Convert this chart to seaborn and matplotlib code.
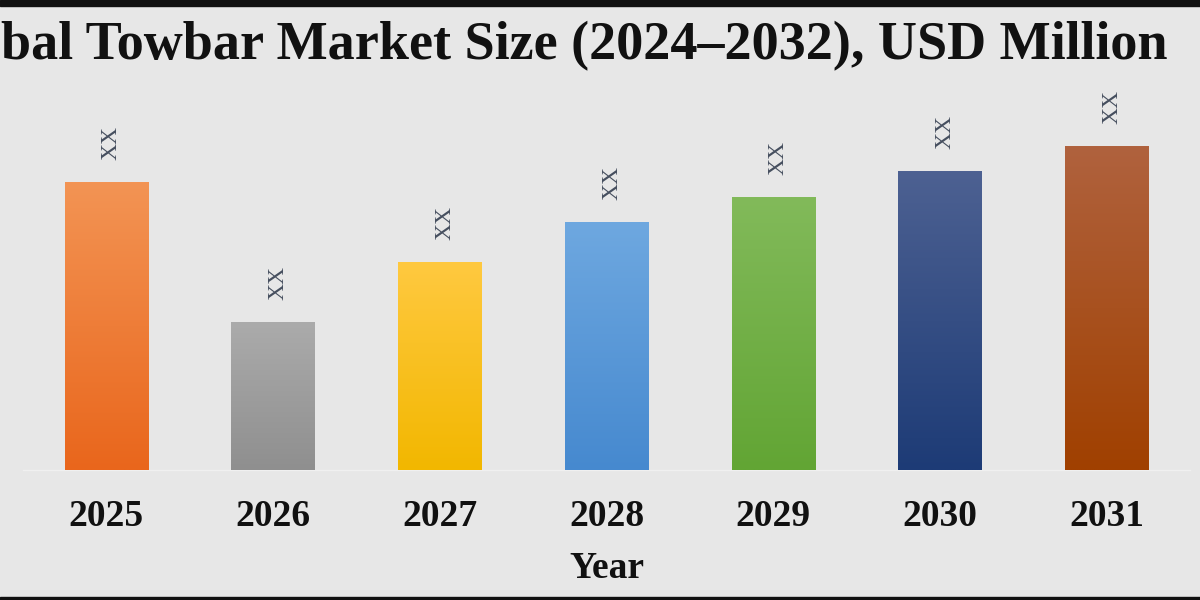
import numpy as np
import pandas as pd
import matplotlib
matplotlib.use("Agg")
import matplotlib.pyplot as plt
import matplotlib.colors as mcolors
from matplotlib.patches import Rectangle
import seaborn as sns

years = ["2025", "2026", "2027", "2028", "2029", "2030", "2031"]
values = [288, 148, 208, 248, 273, 299, 324]
labels = ["XX"] * 7
top_colors = ["#f39454", "#ababab", "#ffc940", "#6ea8e0", "#82ba5a", "#4d6192", "#b0623e"]
bottom_colors = ["#e9661c", "#8f8f8f", "#f2b700", "#4689cf", "#62a534", "#1d3b76", "#a04000"]

title = "Global Towbar Market Size (2024\u20132032), USD Million"
xlabel = "Year"

bg = "#e7e7e7"
sns.set_theme(style="white")
plt.rcParams["font.family"] = ["Liberation Serif", "DejaVu Serif"]

fig = plt.figure(figsize=(12, 6), dpi=100, facecolor=bg)
ax = fig.add_axes([23 / 1200, 130 / 600, 1167 / 1200, 390 / 600])
ax.set_facecolor(bg)

df = pd.DataFrame({"Year": years, "Value": values})
sns.barplot(data=df, x="Year", y="Value", ax=ax, width=0.5, color="white",
            saturation=1, linewidth=0)

for i, p in enumerate(ax.patches):
    x0 = p.get_x()
    w = p.get_width()
    h = p.get_height()
    c_top = np.array(mcolors.to_rgb(top_colors[i]))
    c_bot = np.array(mcolors.to_rgb(bottom_colors[i]))
    t = np.linspace(0, 1, 256)[:, None]
    grad = c_bot[None, :] * (1 - t) + c_top[None, :] * t
    img = grad[:, None, :]
    ax.imshow(img, extent=[x0, x0 + w, 0, h], origin="lower", aspect="auto",
              zorder=3, interpolation="bilinear")
    ax.text(x0 + w / 2 + 0.03, h + 22, labels[i], rotation=90, ha="center", va="bottom",
            fontsize=17, color="#454e5e", zorder=4)

ax.set_xlim(-0.5, 6.5)
ax.set_ylim(0, 390)

for s in ["top", "right", "left"]:
    ax.spines[s].set_visible(False)
ax.spines["bottom"].set_color("#f0f0f0")
ax.spines["bottom"].set_linewidth(1.0)
ax.set_yticks([])
ax.set_ylabel("")
ax.tick_params(axis="x", length=0, pad=21)
for lbl in ax.get_xticklabels():
    lbl.set_fontsize(27)
    lbl.set_fontweight("bold")
    lbl.set_color("#111111")

ax.set_xlabel(xlabel, fontsize=27, fontweight="bold", color="#111111")
ax.xaxis.set_label_coords(0.5, -(569 - 470) / 390)
ax.xaxis.label.set_va("center")

fig.text(1168 / 1200, 1 - 46 / 600, title, ha="right", va="center",
         fontsize=39, fontweight="bold", color="#111111")

fig.patches.append(Rectangle((0, 1 - 6 / 600), 1, 6 / 600, transform=fig.transFigure,
                             color="#111111", zorder=10))
fig.patches.append(Rectangle((0, 0), 1, 3 / 600, transform=fig.transFigure,
                             color="#111111", zorder=10))

fig.savefig("out.png", dpi=100, facecolor=bg)
